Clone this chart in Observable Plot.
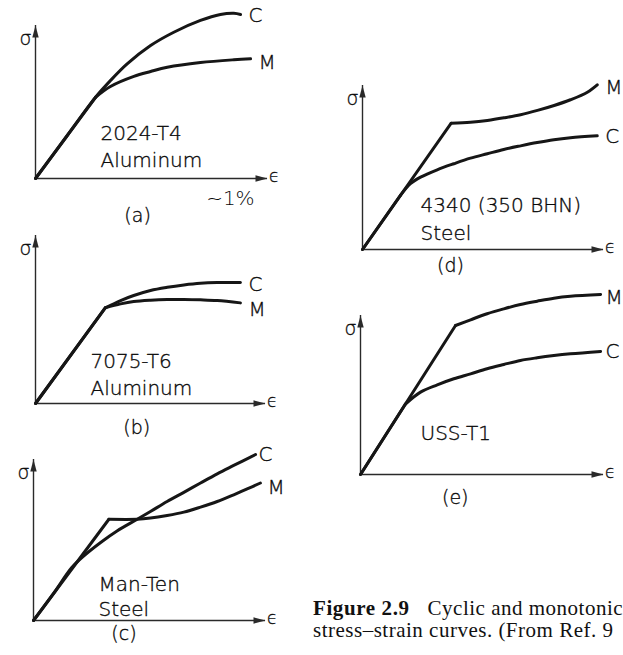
<!DOCTYPE html>
<html>
<head>
<meta charset="utf-8">
<script src="https://cdn.jsdelivr.net/npm/d3@7"></script>
<script src="https://cdn.jsdelivr.net/npm/@observablehq/plot@0.6"></script>
<style>
  html, body { margin: 0; padding: 0; background: #fff; overflow: hidden; }
  #fig { position: relative; width: 623px; height: 655px; overflow: hidden; }
  #caption {
    position: absolute; left: 313px; top: 597px;
    font-family: "Liberation Serif", "Times New Roman", serif;
    font-size: 21px; line-height: 22px; letter-spacing: 0.5px;
    white-space: nowrap; color: #111;
  }
  #caption b { letter-spacing: 0.6px; }
</style>
</head>
<body>
<div id="fig">
  <div id="caption"><b>Figure 2.9</b><span style="margin-left:18px">Cyclic and monotonic</span><br>stress–strain curves. (From Ref. 9</div>
</div>
<script>
// ---------------- data (relative strain / relative stress; axis length = 1) ----------------
const panelIds = ["a", "b", "c", "d", "e"];
const panelLabels = ["(a)", "(b)", "(c)", "(d)", "(e)"];
const materials = ["2024-T4\nAluminum", "7075-T6\nAluminum", "Man-Ten\nSteel", "4340 (350 BHN)\nSteel", "USS-T1"];
const curveNames = ["C", "M"];            // C = cyclic, M = monotonic
const xDomain = [0, 1];
const yDomain = [0, 1];
const aTicks = [0.84];
const aTickLabels = ["~1%"];

// (a) 2024-T4 Aluminum
const aStrainC = [0, 0.137, 0.259, 0.323, 0.395, 0.496, 0.596, 0.711, 0.797, 0.855, 0.884];
const aStressC = [0, 0.281, 0.531, 0.640, 0.749, 0.869, 0.956, 1.033, 1.072, 1.080, 1.072];
const aStrainM = [0, 0.137, 0.259, 0.323, 0.424, 0.496, 0.568, 0.711, 0.855, 0.927];
const aStressM = [0, 0.281, 0.531, 0.601, 0.667, 0.699, 0.727, 0.758, 0.776, 0.782];
// (b) 7075-T6 Aluminum
const bStrainC = [0, 0.304, 0.370, 0.427, 0.500, 0.573, 0.645, 0.717, 0.790, 0.891];
const bStressC = [0, 0.570, 0.613, 0.643, 0.673, 0.692, 0.706, 0.716, 0.720, 0.720];
const bStrainM = [0, 0.304, 0.370, 0.427, 0.500, 0.573, 0.645, 0.717, 0.790, 0.891];
const bStressM = [0, 0.570, 0.593, 0.607, 0.615, 0.619, 0.619, 0.617, 0.613, 0.599];
// (c) Man-Ten Steel
const cStrainC = [0, 0.086, 0.165, 0.216, 0.288, 0.360, 0.447, 0.504, 0.576, 0.648, 0.720, 0.792, 0.863, 0.957];
const cStressC = [0, 0.167, 0.329, 0.400, 0.483, 0.556, 0.629, 0.677, 0.739, 0.796, 0.854, 0.911, 0.963, 1.031];
const cStrainM = [0, 0.325, 0.447, 0.504, 0.576, 0.648, 0.720, 0.792, 0.863, 0.921, 0.978];
const cStressM = [0, 0.629, 0.629, 0.636, 0.652, 0.673, 0.704, 0.739, 0.781, 0.817, 0.854];
// (d) 4340 (350 BHN) Steel
const dStrainC = [0, 0.158, 0.199, 0.241, 0.310, 0.379, 0.448, 0.518, 0.586, 0.656, 0.725, 0.794, 0.863, 0.974];
const dStressC = [0, 0.331, 0.401, 0.441, 0.486, 0.523, 0.557, 0.584, 0.610, 0.632, 0.652, 0.669, 0.681, 0.693];
const dStrainM = [0, 0.368, 0.448, 0.518, 0.587, 0.656, 0.726, 0.795, 0.863, 0.933, 0.974];
const dStressM = [0, 0.770, 0.776, 0.787, 0.803, 0.822, 0.848, 0.878, 0.913, 0.959, 1.004];
// (e) USS-T1
const eStrainC = [0, 0.185, 0.247, 0.316, 0.384, 0.453, 0.521, 0.590, 0.658, 0.727, 0.796, 0.864, 0.988];
const eStressC = [0, 0.443, 0.518, 0.564, 0.602, 0.633, 0.665, 0.692, 0.717, 0.734, 0.748, 0.759, 0.774];
const eStrainM = [0, 0.391, 0.453, 0.521, 0.590, 0.658, 0.727, 0.796, 0.864, 0.988];
const eStressM = [0, 0.937, 0.973, 1.011, 1.042, 1.069, 1.090, 1.109, 1.121, 1.132];

const series = {
  a: {C: [aStrainC, aStressC], M: [aStrainM, aStressM]},
  b: {C: [bStrainC, bStressC], M: [bStrainM, bStressM]},
  c: {C: [cStrainC, cStressC], M: [cStrainM, cStressM]},
  d: {C: [dStrainC, dStressC], M: [dStrainM, dStressM]},
  e: {C: [eStrainC, eStressC], M: [eStrainM, eStressM]}
};

// ---------------- layout & style ----------------
// box: [left, top, width, height]; frame: [x0, x1, yTop, yOrigin] in page px
const layout = {
  a: {box: [0, 0, 300, 228],   frame: [35, 267, 25, 178],  split: {C: 0, M: 2}, off: {C: [8, 1], M: [8, 4]},
      matAt: [0.280, 0.072], lh: 1.35, labAt: [0.44, 43], ticks: true},
  b: {box: [0, 228, 300, 212], frame: [35, 265, 235, 403], split: {C: 1, M: 1}, off: {C: [8, 2], M: [8, 7]},
      matAt: [0.239, 0.048], lh: 1.35, labAt: [0.44, 30]},
  c: {box: [0, 440, 300, 215], frame: [33, 265, 459, 620], split: {C: 0, M: 1}, off: {C: [3, 0], M: [7, 5]},
      matAt: [0.280, 0.031], lh: 1.25, labAt: [0.39, 19]},
  d: {box: [320, 60, 303, 225], frame: [362, 603, 85, 249], split: {C: 1, M: 1}, off: {C: [8, 1], M: [8, 3]},
      matAt: [0.241, 0.055], lh: 1.4, labAt: [0.365, 22]},
  e: {box: [320, 290, 303, 230], frame: [360, 603, 315, 474], split: {C: 1, M: 1}, off: {C: [5, 0], M: [5, 3]},
      matAt: [0.247, 0.214], lh: 1.35, labAt: [0.39, 29]}
};

const ink = "#161616";
const axisInk = "#2a2a2a";
const textInk = "#0a0a0a";
const sans = "DejaVu Sans, Liberation Sans, sans-serif";
const textWeight = 300;

const arrowRight = {draw(ctx) { ctx.moveTo(0, 0); ctx.lineTo(-12, -3.2); ctx.lineTo(-12, 3.2); ctx.closePath(); }};
const arrowUp = {draw(ctx) { ctx.moveTo(0, 0); ctx.lineTo(-3.2, 12); ctx.lineTo(3.2, 12); ctx.closePath(); }};

const fig = document.getElementById("fig");
const tOpts = {fontFamily: sans, fill: textInk, fontWeight: textWeight, stroke: textInk, strokeWidth: 0.35};

panelIds.forEach((id, pi) => {
  const L = layout[id];
  const [bl, bt, bw, bh] = L.box;
  const [fx0, fx1, fy0, fy1] = L.frame;
  const marks = [
    Plot.ruleY([yDomain[0]], {stroke: axisInk, strokeWidth: 1.4}),
    Plot.ruleX([xDomain[0]], {stroke: axisInk, strokeWidth: 1.4}),
    Plot.dot([{x: xDomain[1], y: yDomain[0]}], {x: "x", y: "y", symbol: arrowRight, fill: axisInk}),
    Plot.dot([{x: xDomain[0], y: yDomain[1]}], {x: "x", y: "y", symbol: arrowUp, fill: axisInk}),
    Plot.text(["σ"], {frameAnchor: "top-left", dx: -16, dy: 6, fontSize: 19, ...tOpts}),
    Plot.text(["ϵ"], {frameAnchor: "bottom-right", dx: 12, dy: 3, fontSize: 17, ...tOpts})
  ];
  for (const name of curveNames) {
    const [sx, sy] = series[id][name];
    const pts = sx.map((x, i) => ({x, y: sy[i]}));
    const k = L.split[name];
    const lineOpts = {x: "x", y: "y", stroke: ink, strokeWidth: 3, strokeLinecap: "round", strokeLinejoin: "round"};
    if (k > 0) marks.push(Plot.line(pts.slice(0, k + 1), {...lineOpts, curve: "linear"}));
    marks.push(Plot.line(pts.slice(k), {...lineOpts, curve: "catmull-rom"}));
    const [dx, dy] = L.off[name];
    marks.push(Plot.text([pts[pts.length - 1]], {x: "x", y: "y", text: () => name, dx, dy,
      textAnchor: "start", fontSize: 20, ...tOpts}));
  }
  marks.push(Plot.text([materials[pi]], {x: () => L.matAt[0], y: () => L.matAt[1], text: d => d,
    textAnchor: "start", lineAnchor: "bottom", lineHeight: L.lh, fontSize: 20, ...tOpts}));
  marks.push(Plot.text([panelLabels[pi]], {x: () => L.labAt[0], y: () => yDomain[0], text: d => d, dy: L.labAt[1],
    textAnchor: "middle", lineAnchor: "bottom", fontSize: 19, ...tOpts}));
  if (L.ticks) {
    marks.push(Plot.axisX(aTicks, {tickSize: 0, tickPadding: 12, label: null, fontSize: 20,
      tickFormat: d => aTickLabels[aTicks.indexOf(d)], ...tOpts}));
  }
  const svg = Plot.plot({
    width: bw, height: bh,
    marginLeft: fx0 - bl, marginRight: bl + bw - fx1,
    marginTop: fy0 - bt, marginBottom: bt + bh - fy1,
    x: {domain: xDomain, axis: null},
    y: {domain: yDomain, axis: null},
    style: {background: "transparent", overflow: "visible", fontFamily: sans, color: textInk},
    marks
  });
  svg.style.position = "absolute";
  svg.style.left = bl + "px";
  svg.style.top = bt + "px";
  fig.appendChild(svg);
});
</script>
</body>
</html>
